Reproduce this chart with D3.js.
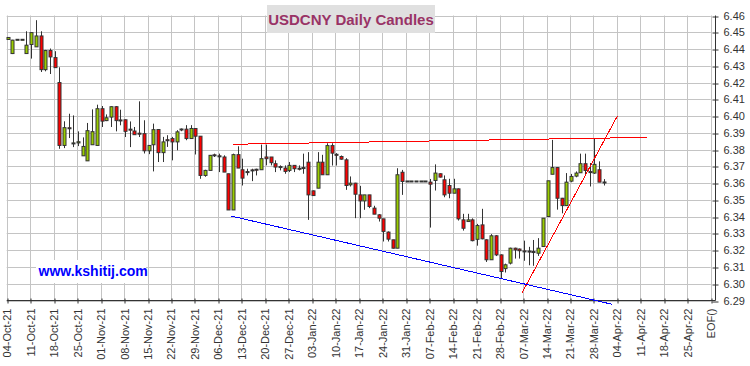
<!DOCTYPE html>
<html><head><meta charset="utf-8">
<script src="https://cdn.jsdelivr.net/npm/d3@7/dist/d3.min.js"></script>
<style>
body{margin:0;background:#fff}
svg{display:block}
text{font-family:"Liberation Sans",Arial,sans-serif}
</style>
</head><body>
<svg id="chart" width="750" height="366"></svg>
<script>
// ---------- data ----------
const weekLabels = ["04-Oct-21","11-Oct-21","18-Oct-21","25-Oct-21","01-Nov-21","08-Nov-21","15-Nov-21",
  "22-Nov-21","29-Nov-21","06-Dec-21","13-Dec-21","20-Dec-21","27-Dec-21","03-Jan-22","10-Jan-22",
  "17-Jan-22","24-Jan-22","31-Jan-22","07-Feb-22","14-Feb-22","21-Feb-22","28-Feb-22","07-Mar-22",
  "14-Mar-22","21-Mar-22","28-Mar-22","04-Apr-22","11-Apr-22","18-Apr-22","25-Apr-22","EOF()"];
const priceTicks = [6.29,6.30,6.31,6.32,6.33,6.34,6.35,6.36,6.37,6.38,6.39,6.40,6.41,6.42,6.43,6.44,6.45,6.46];

const open = [6.4457,6.4373,6.4455,6.4455,6.4373,6.4427,6.4413,6.4478,6.4277,6.4391,
6.4349,6.4200,6.3825,6.3930,6.3837,6.3840,6.3763,6.3733,6.3829,6.3825,
6.4044,6.3973,6.3994,6.4056,6.3976,6.3978,6.3920,6.3911,6.3897,6.3895,
6.3793,6.3829,6.3920,6.3782,6.3857,6.3866,6.3846,6.3919,6.3922,6.3866,
6.3926,6.3880,6.3646,6.3676,6.3767,6.3761,6.3756,6.3656,6.3440,6.3770,
6.3680,6.3667,6.3677,6.3681,6.3680,6.3756,6.3756,6.3716,6.3697,6.3690,
6.3676,6.3706,6.3687,6.3691,6.3725,6.3554,6.3570,6.3725,6.3650,6.3824,
6.3770,6.3759,6.3739,6.3590,6.3600,6.3530,6.3494,6.3530,6.3451,6.3411,
6.3387,6.3308,6.3262,6.3212,6.3665,6.3610,6.3610,6.3610,6.3610,6.3610,
6.3606,6.3616,6.3656,6.3620,6.3586,6.3540,6.3566,6.3381,6.3371,6.3381,
6.3265,6.3351,6.3262,6.3143,6.3286,6.3172,6.3090,6.3123,6.3212,6.3207,
6.3195,6.3194,6.3191,6.3182,6.3222,6.3401,6.3653,6.3693,6.3510,6.3466,
6.3612,6.3642,6.3662,6.3716,6.3668,6.3660,6.3680,6.3606];
const high = [6.4470,6.4455,6.4455,6.4455,6.4506,6.4500,6.4572,6.4506,6.4395,6.4403,
6.4387,6.4291,6.3969,6.4014,6.4004,6.3909,6.3873,6.3959,6.4040,6.4068,
6.4060,6.4010,6.4058,6.4060,6.4038,6.3980,6.3968,6.3935,6.4088,6.3975,
6.3827,6.3955,6.3921,6.3876,6.3886,6.3876,6.3916,6.3926,6.3946,6.3946,
6.3928,6.3880,6.3680,6.3768,6.3776,6.3776,6.3766,6.3656,6.3776,6.3820,
6.3746,6.3686,6.3686,6.3686,6.3830,6.3830,6.3756,6.3736,6.3706,6.3706,
6.3726,6.3706,6.3706,6.3776,6.3785,6.3556,6.3785,6.3769,6.3838,6.3838,
6.3779,6.3765,6.3749,6.3640,6.3602,6.3584,6.3530,6.3530,6.3465,6.3415,
6.3387,6.3312,6.3262,6.3689,6.3679,6.3610,6.3610,6.3610,6.3610,6.3610,
6.3625,6.3712,6.3658,6.3646,6.3626,6.3626,6.3568,6.3417,6.3417,6.3390,
6.3357,6.3447,6.3265,6.3296,6.3290,6.3175,6.3120,6.3215,6.3215,6.3210,
6.3257,6.3220,6.3261,6.3272,6.3391,6.3614,6.3858,6.3696,6.3512,6.3660,
6.3655,6.3670,6.3776,6.3776,6.3720,6.3868,6.3730,6.3624];
const low = [6.4455,6.4370,6.4455,6.4455,6.4373,6.4343,6.4413,6.4263,6.4267,6.4251,
6.4289,6.3805,6.3809,6.3869,6.3815,6.3821,6.3763,6.3733,6.3829,6.3825,
6.3935,6.3970,6.3935,6.3909,6.3945,6.3875,6.3815,6.3889,6.3875,6.3777,
6.3773,6.3670,6.3726,6.3726,6.3816,6.3736,6.3796,6.3910,6.3856,6.3866,
6.3771,6.3626,6.3638,6.3676,6.3756,6.3666,6.3666,6.3440,6.3440,6.3690,
6.3586,6.3646,6.3612,6.3646,6.3680,6.3706,6.3706,6.3666,6.3676,6.3656,
6.3666,6.3666,6.3676,6.3656,6.3381,6.3524,6.3570,6.3650,6.3650,6.3705,
6.3705,6.3740,6.3560,6.3580,6.3391,6.3391,6.3441,6.3451,6.3415,6.3371,
6.3252,6.3252,6.3210,6.3212,6.3530,6.3610,6.3610,6.3610,6.3610,6.3610,
6.3335,6.3556,6.3634,6.3516,6.3510,6.3540,6.3377,6.3317,6.3370,6.3253,
6.3227,6.3265,6.3130,6.3143,6.3165,6.3033,6.3067,6.3115,6.3150,6.3150,
6.3137,6.3110,6.3107,6.3166,6.3222,6.3401,6.3653,6.3442,6.3420,6.3466,
6.3605,6.3635,6.3662,6.3646,6.3580,6.3655,6.3606,6.3586];
const close = [6.4469,6.4453,6.4455,6.4455,6.4423,6.4498,6.4478,6.4277,6.4391,6.4353,
6.4289,6.3825,6.3931,6.3925,6.3837,6.3847,6.3819,6.3913,6.3907,6.4044,
6.3970,6.3990,6.4056,6.3973,6.3972,6.3909,6.3918,6.3889,6.3893,6.3793,
6.3825,6.3919,6.3782,6.3846,6.3855,6.3846,6.3906,6.3921,6.3866,6.3926,
6.3880,6.3646,6.3676,6.3766,6.3765,6.3759,6.3666,6.3440,6.3770,6.3690,
6.3630,6.3665,6.3675,6.3679,6.3746,6.3746,6.3722,6.3696,6.3695,6.3670,
6.3706,6.3686,6.3685,6.3689,6.3530,6.3526,6.3725,6.3650,6.3824,6.3779,
6.3768,6.3743,6.3586,6.3600,6.3534,6.3494,6.3530,6.3461,6.3415,6.3391,
6.3312,6.3266,6.3212,6.3650,6.3610,6.3610,6.3610,6.3610,6.3610,6.3610,
6.3594,6.3660,6.3636,6.3530,6.3540,6.3566,6.3387,6.3331,6.3381,6.3257,
6.3347,6.3268,6.3143,6.3286,6.3172,6.3073,6.3113,6.3212,6.3202,6.3197,
6.3191,6.3190,6.3187,6.3212,6.3391,6.3614,6.3693,6.3510,6.3466,6.3606,
6.3640,6.3660,6.3716,6.3676,6.3664,6.3712,6.3606,6.3602];

// trend lines: [trading-day index, price]
const resistanceLine = [[48.06,6.3832],[136.3,6.3873]];
const risingLine = [[109.5,6.2942],[129.87,6.4000]];
const fallingLine = [[47.57,6.3404],[128.8,6.2877]];

// ---------- drawing ----------
const svg = d3.select("#chart");
const x = d3.scaleLinear().domain([0,150]).range([6.7,710.8]);
const y = d3.scaleLinear().domain([6.29,6.46]).range([300.5,15.5]);
const cx = i => x(i) + 1;
const snap = v => Math.round(v) + 0.5;
const gridCol = "#c4c4c4", axisCol = "#333";

const weekIdx = weekLabels.map((d,k)=>k*5);

// grid
const grid = svg.append("g");
grid.selectAll("line.v").data(weekIdx).join("line")
  .attr("x1",d=>snap(x(d))).attr("x2",d=>snap(x(d)))
  .attr("y1",y(6.46)).attr("y2",y(6.29))
  .attr("stroke",gridCol).attr("stroke-width",1);
grid.selectAll("line.h").data(priceTicks).join("line")
  .attr("x1",x(0)).attr("x2",x(150))
  .attr("y1",d=>snap(y(d))).attr("y2",d=>snap(y(d)))
  .attr("stroke",gridCol).attr("stroke-width",1);

// watermark box
svg.append("rect").attr("x",36).attr("y",260).attr("width",110).attr("height",23).attr("fill","#fff");
svg.append("text").attr("x",38.5).attr("y",276).attr("font-size",14).attr("font-weight","bold")
  .attr("fill","#0000ff").text("www.kshitij.com");

// axes
const yAxis = d3.axisRight(y).tickValues(priceTicks).tickFormat(d3.format(".2f")).tickSizeOuter(0).tickSize(3).tickPadding(5);
const gy = svg.append("g").attr("transform","translate(715.5,0)").call(yAxis);
gy.select(".domain").attr("d",`M0,${y(6.46)}V${y(6.29)}`).attr("stroke",axisCol);
gy.selectAll(".tick line").attr("x1",-3).attr("x2",3).attr("stroke",axisCol)
  .attr("transform",d=>`translate(0,${snap(y(d))-y(d)})`);
gy.selectAll(".tick text").attr("font-size",11).attr("fill",axisCol).attr("font-family","'Liberation Sans',Arial,sans-serif");

const xAxis = d3.axisBottom(x).tickValues(weekIdx).tickFormat((d,k)=>weekLabels[k]).tickSizeOuter(0).tickSize(3);
const gx = svg.append("g").attr("transform","translate(0,300.5)").call(xAxis);
gx.select(".domain").attr("d",`M${x(0)},0H715.5`).attr("stroke",axisCol);
gx.selectAll(".tick line").attr("y1",-2).attr("y2",3).attr("stroke",axisCol)
  .attr("transform",d=>`translate(${snap(x(d))-x(d)},0)`);
gx.selectAll(".tick text").attr("font-size",11).attr("fill",axisCol)
  .attr("font-family","'Liberation Sans',Arial,sans-serif")
  .attr("text-anchor","end").attr("transform","translate(0,8) rotate(-90)")
  .attr("x",0).attr("y",0).attr("dy","0.36em");

// candles
const idx = d3.range(open.length);
const cg = svg.append("g");
cg.selectAll("line.wick").data(idx).join("line")
  .attr("x1",i=>snap(cx(i))).attr("x2",i=>snap(cx(i)))
  .attr("y1",i=>y(high[i])).attr("y2",i=>y(low[i]))
  .attr("stroke","#333").attr("stroke-width",1);
cg.selectAll("rect.body").data(idx).join("rect")
  .attr("x",i=>snap(cx(i))-1.5).attr("width",3)
  .attr("y",i=>{const t=y(Math.max(open[i],close[i])), b=y(Math.min(open[i],close[i])); return b-t<1?(t+b)/2-0.5:t;})
  .attr("height",i=>Math.max(1,y(Math.min(open[i],close[i]))-y(Math.max(open[i],close[i]))))
  .attr("fill",i=>close[i]>=open[i]?"#99cc00":"#ff0000")
  .attr("stroke","#333").attr("stroke-width",1);

// trend lines
const line = d3.line().x(d=>cx(d[0])).y(d=>y(d[1]));
const trends = svg.append("g").attr("shape-rendering","crispEdges");
trends.append("path").attr("d",line(resistanceLine)).attr("stroke","#ff0000").attr("fill","none").attr("stroke-width",1);
trends.append("path").attr("d",line(risingLine)).attr("stroke","#ff0000").attr("fill","none").attr("stroke-width",1);
trends.append("path").attr("d",line(fallingLine)).attr("stroke","#0000ff").attr("fill","none").attr("stroke-width",1);

// title
svg.append("rect").attr("x",267).attr("y",5).attr("width",168).attr("height",28).attr("fill","#e0e0e0");
svg.append("text").attr("x",351).attr("y",24.5).attr("text-anchor","middle")
  .attr("font-size",15).attr("font-weight","bold").attr("fill","#993366").text("USDCNY Daily Candles");
</script>
</body></html>
